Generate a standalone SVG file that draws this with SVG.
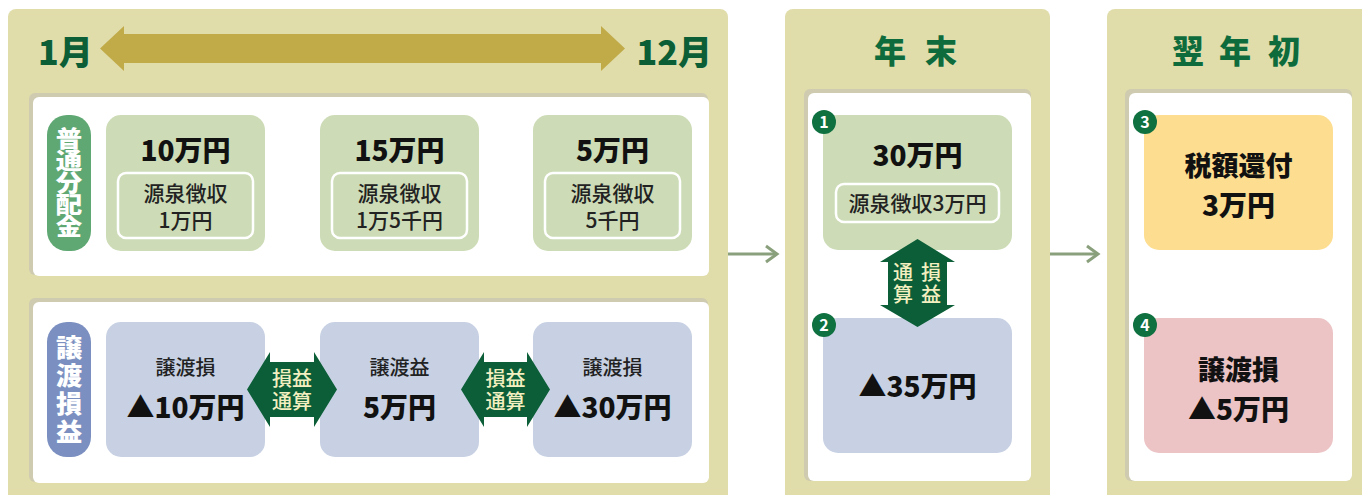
<svg xmlns="http://www.w3.org/2000/svg" width="1362" height="495" viewBox="0 0 1362 495">
<style>
text{font-family:"Noto Sans CJK JP","Noto Sans CJK SC",sans-serif}
.panel{fill:#e0ddab}
.shadow{fill:#cecbb0}
.inner{fill:#fff}
.gbox{fill:#cddcb6}
.bbox{fill:#c7d1e3}
.sub{fill:#cddcb6;stroke:#fff;stroke-width:2.5}
.big{font-size:28px;font-weight:900;fill:#111;text-anchor:middle}
.mid{font-size:21px;font-weight:500;fill:#222;text-anchor:middle}
.lbl{font-size:20px;font-weight:500;fill:#222;text-anchor:middle}
.head{font-size:32px;font-weight:900;fill:#0e6b3b;text-anchor:middle}
.month{font-size:34px;font-weight:900;fill:#0b5e36}
.pill{font-size:23px;font-weight:900;fill:#fff;text-anchor:middle}
.arr{fill:#0b5e37}
.arrt{font-size:20px;font-weight:500;fill:#f3efc0;text-anchor:middle}
.badge{fill:#0f7040}
.bt{font-size:16px;font-weight:700;fill:#fff;text-anchor:middle}
.conn{stroke:#8aa07c;stroke-width:3;fill:none}
</style>

<!-- Left panel -->
<g id="period-panel">
  <rect class="panel" x="8" y="9" width="720" height="500" rx="8"/>
  <text class="month" x="38" y="65">1月</text>
  <text class="month" x="712" y="65" text-anchor="end">12月</text>
  <polygon fill="#c1ab49" points="100,48.5 124,26 124,34 601,34 601,26 625,48.5 601,71 601,63 124,63 124,71"/>
  <rect class="shadow" x="29" y="93" width="679" height="182" rx="6"/>
  <rect class="inner" x="33" y="97" width="676" height="179" rx="6"/>
  <rect class="shadow" x="29" y="298" width="679" height="184" rx="6"/>
  <rect class="inner" x="33" y="302" width="676" height="181" rx="6"/>
</g>

<g id="label-dividend">
  <rect x="47" y="115" width="44" height="136" rx="20" fill="#5fa873"/>
  <g transform="translate(69 0) scale(1.15 1)">
    <text class="pill" x="0 0 0 0 0" y="147.5 169.5 191.5 213.5 235.5">普通分配金</text>
  </g>
</g>
<g id="label-gainloss">
  <rect x="47" y="322" width="44" height="135" rx="20" fill="#7b8fc0"/>
  <g transform="translate(69 0) scale(1.05 1)">
    <text class="pill" style="font-size:25px" x="0 0 0 0" y="357 385 413 441">譲渡損益</text>
  </g>
</g>

<g id="div1">
  <rect class="gbox" x="106" y="115" width="159" height="136" rx="15"/>
  <text class="big" x="185.5" y="161">10万円</text>
  <rect class="sub" x="118" y="173" width="135" height="65" rx="8"/>
  <text class="mid" x="185.5" y="201">源泉徴収</text>
  <text class="mid" x="185.5" y="228">1万円</text>
</g>
<g id="div2">
  <rect class="gbox" x="320" y="115" width="159" height="136" rx="15"/>
  <text class="big" x="399.5" y="161">15万円</text>
  <rect class="sub" x="332" y="173" width="135" height="65" rx="8"/>
  <text class="mid" x="399.5" y="201">源泉徴収</text>
  <text class="mid" x="399.5" y="228">1万5千円</text>
</g>
<g id="div3">
  <rect class="gbox" x="533" y="115" width="159" height="136" rx="15"/>
  <text class="big" x="612.5" y="161">5万円</text>
  <rect class="sub" x="545" y="173" width="135" height="65" rx="8"/>
  <text class="mid" x="612.5" y="201">源泉徴収</text>
  <text class="mid" x="612.5" y="228">5千円</text>
</g>

<g id="gl1">
  <rect class="bbox" x="106" y="322" width="159" height="135" rx="15"/>
  <text class="lbl" x="185.5" y="374.5">譲渡損</text>
  <text class="big" x="185.5" y="418">▲10万円</text>
</g>
<g id="gl2">
  <rect class="bbox" x="320" y="322" width="159" height="135" rx="15"/>
  <text class="lbl" x="399.5" y="374.5">譲渡益</text>
  <text class="big" x="399.5" y="418">5万円</text>
</g>
<g id="gl3">
  <rect class="bbox" x="533" y="322" width="159" height="135" rx="15"/>
  <text class="lbl" x="612.5" y="374.5">譲渡損</text>
  <text class="big" x="612.5" y="418">▲30万円</text>
</g>

<!-- Middle panel -->
<g id="yearend-panel">
  <rect class="panel" x="785" y="9" width="265" height="500" rx="8"/>
  <text class="head" x="890 941" y="63">年末</text>
  <rect class="shadow" x="804" y="89" width="227" height="392" rx="6"/>
  <rect class="inner" x="808" y="93" width="223" height="388" rx="6"/>
</g>
<g id="ye1">
  <rect class="gbox" x="823" y="115" width="189" height="135" rx="15"/>
  <text class="big" x="917.5" y="166">30万円</text>
  <rect class="sub" x="836" y="184" width="163" height="38" rx="8"/>
  <text class="mid" x="917.5" y="211">源泉徴収3万円</text>
  <circle class="badge" cx="824" cy="122" r="12"/>
  <text class="bt" x="824" y="128">1</text>
</g>
<g id="ye2">
  <rect class="bbox" x="823" y="318" width="189" height="135" rx="15"/>
  <text class="big" x="917.5" y="397">▲35万円</text>
  <circle class="badge" cx="824" cy="325" r="12"/>
  <text class="bt" x="824" y="331">2</text>
</g>

<!-- Right panel -->
<g id="nextyear-panel">
  <rect class="panel" x="1107" y="9" width="270" height="500" rx="8"/>
  <text class="head" x="1188 1235 1284" y="63">翌年初</text>
  <rect class="shadow" x="1125" y="89" width="227" height="392" rx="6"/>
  <rect class="inner" x="1129" y="93" width="223" height="388" rx="6"/>
</g>
<g id="ny3">
  <rect x="1144" y="115" width="189" height="135" rx="15" fill="#fddd8f"/>
  <text class="big" style="font-size:27px" x="1238.5" y="176">税額還付</text>
  <text class="big" x="1238.5" y="216">3万円</text>
  <circle class="badge" cx="1145" cy="122" r="12"/>
  <text class="bt" x="1145" y="128">3</text>
</g>
<g id="ny4">
  <rect x="1144" y="318" width="189" height="135" rx="15" fill="#ecc4c6"/>
  <text class="big" style="font-size:27px" x="1238.5" y="380">譲渡損</text>
  <text class="big" x="1238.5" y="420">▲5万円</text>
  <circle class="badge" cx="1145" cy="325" r="12"/>
  <text class="bt" x="1145" y="331">4</text>
</g>

<!-- Connectors -->
<g id="connectors">
  <g id="offset1">
    <polygon class="arr" points="247,389.5 270,352 270,362 314,362 314,352 337,389.5 314,427 314,417 270,417 270,427"/>
    <text class="arrt"><tspan x="292" y="385.5">損益</tspan><tspan x="292" y="408.5">通算</tspan></text>
  </g>
  <g id="offset2">
    <polygon class="arr" points="461,389.5 484,352 484,362 527,362 527,352 550,389.5 527,427 527,417 484,417 484,427"/>
    <text class="arrt"><tspan x="505.5" y="385.5">損益</tspan><tspan x="505.5" y="408.5">通算</tspan></text>
  </g>
  <g id="offset3">
    <polygon class="arr" points="917.5,239 955,262 947,262 947,305 955,305 917.5,327 880,305 888,305 888,262 880,262"/>
    <text class="arrt"><tspan x="903 931" y="280">通損</tspan><tspan x="903 931" y="302">算益</tspan></text>
  </g>
  <line class="conn" x1="728" y1="254" x2="776" y2="254"/>
  <polyline class="conn" points="766,246 777,254 766,262"/>
  <line class="conn" x1="1050" y1="254" x2="1097" y2="254"/>
  <polyline class="conn" points="1087,246 1098,254 1087,262"/>
</g>
</svg>
